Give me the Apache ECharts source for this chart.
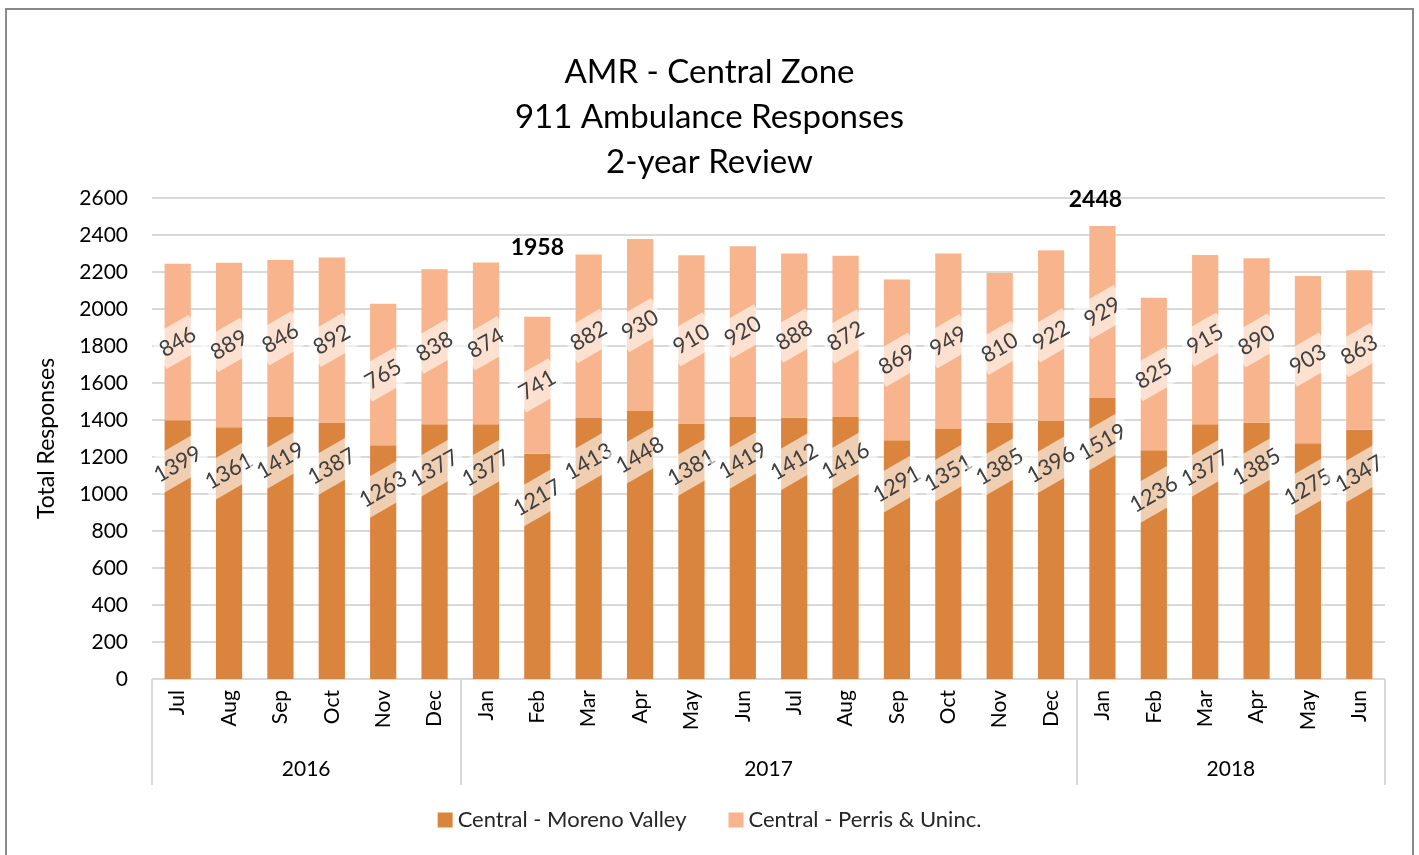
<!DOCTYPE html>
<html>
<head>
<meta charset="utf-8">
<script src="https://cdn.jsdelivr.net/npm/echarts@6/dist/echarts.min.js"></script>
<style>
	html,body{margin:0;padding:0;background:#fff;}
	#chart{width:1419px;height:855px;}
	#frame{position:absolute;left:5px;top:8px;width:1405px;height:870px;border:2px solid #898989;pointer-events:none;}
</style>
</head>
<body>
<div id="chart"></div>
<div id="frame"></div>
<script>
var months = ['Jul','Aug','Sep','Oct','Nov','Dec','Jan','Feb','Mar','Apr','May','Jun','Jul','Aug','Sep','Oct','Nov','Dec','Jan','Feb','Mar','Apr','May','Jun'];
var years = ['2016','2017','2018'];
var yearSpans = [6, 12, 6];
var morenoValley = [1399,1361,1419,1387,1263,1377,1377,1217,1413,1448,1381,1419,1412,1416,1291,1351,1385,1396,1519,1236,1377,1385,1275,1347];
var perrisUninc = [846,889,846,892,765,838,874,741,882,930,910,920,888,872,869,949,810,922,929,825,915,890,903,863];
var yTicks = [0,200,400,600,800,1000,1200,1400,1600,1800,2000,2200,2400,2600];
// bars that get a bold total label above them
var calloutIdx = [7, 18];

var font = 'Lato';
var fg = '#000';

// year axis: 25 boundary points, ticks on year edges, labels in the middle
var yearSlots = [];
var yearEdges = [0];
var yearMid = {};
var pos = 0;
for (var i = 0; i < years.length; i++) {
	yearMid[pos + yearSpans[i] / 2] = years[i];
	pos += yearSpans[i];
	yearEdges.push(pos);
}
for (var k = 0; k <= months.length; k++) {
	yearSlots.push(yearMid[k] || '');
}

var totals = morenoValley.map(function(v, i){ return v + perrisUninc[i]; });
var callouts = calloutIdx.map(function(i, n){
	return {
		coord: [i, totals[i]],
		value: totals[i],
		label: {offset: n == 0 ? [0, -69] : [-7, -27]}
	};
});

var myChart = echarts.init(document.getElementById('chart'));
var segLabel = {
	show: true,
	rotate: 30,
	fontFamily: font,
	fontSize: 22,
	color: '#404040',
	backgroundColor: 'rgba(255,255,255,0.6)',
	padding: [7, 4]
};
var option = {
	animation: false,
	textStyle: {fontFamily: font},
	title: {
		text: 'AMR - Central Zone\n911 Ambulance Responses\n2-year Review',
		left: 'center',
		top: 45,
		textStyle: {fontFamily: font, fontSize: 33, fontWeight: 'normal', color: fg, lineHeight: 45}
	},
	legend: {
		bottom: 19,
		left: 'center',
		itemWidth: 15,
		itemHeight: 15,
		itemGap: 42,
		icon: 'rect',
		textStyle: {fontFamily: font, fontSize: 22, color: '#262626'},
		data: ['Central - Moreno Valley', 'Central - Perris & Uninc.']
	},
	grid: {left: 152, right: 34, top: 198, bottom: 176},
	xAxis: [{
		type: 'category',
		data: months,
		axisLine: {lineStyle: {color: '#d9d9d9', width: 1}},
		axisTick: {show: false},
		axisLabel: {rotate: 90, margin: 11, fontFamily: font, fontSize: 21, color: fg}
	}, {
		type: 'category',
		position: 'bottom',
		boundaryGap: false,
		data: yearSlots,
		axisLine: {show: false},
		axisTick: {
			show: true,
			length: 106,
			interval: function(idx){ return yearEdges.indexOf(idx) >= 0; },
			lineStyle: {color: '#d9d9d9', width: 2}
		},
		axisLabel: {
			margin: 80,
			fontFamily: font,
			fontSize: 21,
			color: fg,
			interval: function(idx, val){ return val !== ''; }
		}
	}],
	yAxis: {
		type: 'value',
		min: yTicks[0],
		max: yTicks[yTicks.length - 1],
		interval: yTicks[1] - yTicks[0],
		name: 'Total Responses',
		nameLocation: 'middle',
		nameGap: 94,
		nameTextStyle: {fontFamily: font, fontSize: 23, color: fg},
		axisLine: {show: false},
		axisTick: {show: false},
		axisLabel: {fontFamily: font, fontSize: 21, color: fg, margin: 24, formatter: function(v){ return String(v); }},
		splitLine: {lineStyle: {color: '#d9d9d9', width: 2}}
	},
	series: [{
		name: 'Central - Moreno Valley',
		type: 'bar',
		stack: 'total',
		barWidth: '51%',
		data: morenoValley,
		itemStyle: {color: '#DA843E'},
		label: Object.assign({}, segLabel, {position: ['50%', 44], align: 'center', verticalAlign: 'middle'})
	}, {
		name: 'Central - Perris & Uninc.',
		type: 'bar',
		stack: 'total',
		data: perrisUninc,
		itemStyle: {color: '#F8B48C'},
		label: Object.assign({}, segLabel, {position: 'inside'}),
		markPoint: {
			symbolSize: 0,
			label: {show: true, position: 'inside', fontFamily: font, fontSize: 23, fontWeight: 'bold', color: fg},
			data: callouts
		}
	}]
};
myChart.setOption(option);
</script>
</body>
</html>
